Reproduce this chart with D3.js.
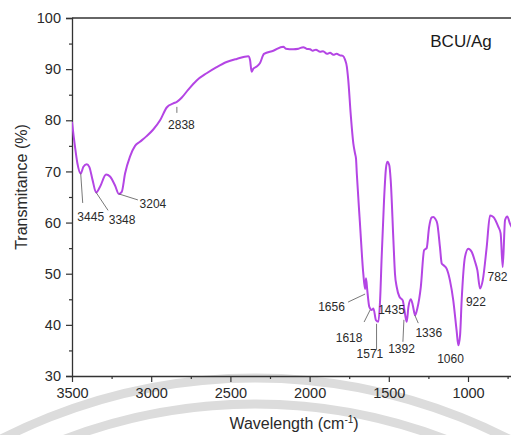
<!DOCTYPE html>
<html>
<head>
<meta charset="utf-8">
<script src="https://cdn.jsdelivr.net/npm/d3@7/dist/d3.min.js"></script>
<style>
  html, body { margin: 0; padding: 0; background: #fff; }
  svg { display: block; font-family: Arial, "Liberation Sans", sans-serif; }
</style>
</head>
<body>
<svg id="chart" width="511" height="435"></svg>
<script>
// ---- data ----
const wavenumber = [
  3500,3490,3481,3466,3445,3428,3407,3391,3370,3348,3323,3285,3260,3229,3204,3186,3165,3134,3102,3071,
  3029,2987,2944,2902,2860,2838,2808,2766,2713,2650,2587,2524,2460,2387,2376,2366,2355,2334,2313,2288,
  2229,2166,2150,2103,2070,2040,2020,1997,1980,1960,1934,1915,1890,1871,1850,1830,1808,1790,1777,1765,
  1756,1740,1724,1713,1707,1702,1682,1661,1650,1644,1636,1623,1608,1597,1581,1566,1555,1545,1530,1518,
  1509,1497,1488,1471,1461,1450,1433,1412,1398,1387,1376,1361,1349,1334,1320,1298,1277,1261,1246,1229,
  1219,1208,1194,1177,1166,1156,1135,1114,1093,1072,1061,1050,1040,1019,998,977,956,941,924,907,
  882,861,840,809,794,781,766,752,735,722
];
const transmittance = [
  79.7,77.0,74.8,71.6,69.6,70.9,71.4,70.9,68.3,65.9,67.0,69.4,69.0,67.3,65.6,66.0,69.6,72.9,75.0,75.8,
  76.9,78.2,80.0,82.5,83.3,83.6,84.4,86.0,87.8,89.2,90.4,91.4,92.0,92.5,91.8,89.5,90.1,90.5,91.2,93.0,
  93.6,94.4,94.0,93.9,94.0,94.3,94.0,93.9,93.6,93.8,93.4,93.5,93.0,93.2,92.8,93.0,92.7,92.6,91.9,90.5,
  87.9,81.0,75.5,73.5,72.5,69.6,59.8,50.0,47.0,49.1,46.8,43.5,42.9,43.2,40.9,40.6,44.8,53.3,64.4,70.6,
  71.9,71.2,68.3,56.6,50.0,47.4,45.5,44.8,42.2,40.6,43.5,45.0,43.9,41.9,43.2,47.4,54.6,55.0,59.0,61.0,
  61.1,60.8,59.8,55.2,52.0,51.7,51.0,48.7,44.8,38.9,36.0,38.0,44.8,53.3,54.9,54.3,52.4,50.7,47.1,48.7,
  55.2,61.4,61.1,59.2,57.9,51.3,60.5,61.2,59.8,59.0
];
const xMajorTicks = [3500, 3000, 2500, 2000, 1500, 1000];
const xMinorTicks = [3250, 2750, 2250, 1750, 1250, 750];
const yMajorTicks = [30, 40, 50, 60, 70, 80, 90, 100];
const yMinorTicks = [35, 45, 55, 65, 75, 85, 95];
// peak labels: label text, wavenumber and transmittance of the marked point
const peakLabels = ["3445","3348","3204","2838","1656","1618","1571","1435","1392","1336","1060","922","782"];
const peakWave   = [3445, 3348, 3204, 2838, 1656, 1618, 1571, 1435, 1392, 1336, 1060, 922, 782];
const peakValue  = [69.6, 65.9, 65.6, 83.6, 47.0, 42.9, 40.6, 45.5, 40.6, 41.9, 36.0, 47.1, 51.3];
const sampleName = "BCU/Ag";
const xTitle = "Wavelength (cm";
const yTitle = "Transmitance (%)";

// ---- layout ----
const W = 511, H = 435;
const mLeft = 72, mTop = 18, mBottom = 376;
const x = d3.scaleLinear().domain([3500, 700]).range([mLeft, mLeft + 2800 * 0.1584]);
const y = d3.scaleLinear().domain([30, 100]).range([mBottom, mTop]);

const svg = d3.select("#chart");

// watermark arcs (background decoration)
const wm = svg.append("g");
[558, 532].forEach(r => {
  wm.append("circle").attr("cx", 255).attr("cy", 936).attr("r", r)
    .attr("fill", "none").attr("stroke", "#dcdcdc").attr("stroke-width", 9);
});

const axisColor = "#333";

// clip
svg.append("clipPath").attr("id", "clip").append("rect")
  .attr("x", mLeft).attr("y", mTop - 2).attr("width", W - mLeft).attr("height", mBottom - mTop + 2);

// top frame line
svg.append("line").attr("x1", mLeft).attr("x2", W).attr("y1", mTop).attr("y2", mTop)
  .attr("stroke", axisColor).attr("stroke-width", 1.3);

// axes
function styleAxis(g) {
  g.selectAll("path.domain").attr("stroke", axisColor).attr("stroke-width", 1.3);
  g.selectAll(".tick line").attr("stroke", axisColor).attr("stroke-width", 1.2);
  g.selectAll(".tick text").attr("fill", "#2a2a2a").style("font-size", "14.5px")
    .style("font-family", "Arial, 'Liberation Sans', sans-serif");
}
const gy = svg.append("g").attr("transform", `translate(${mLeft},0)`)
  .call(d3.axisLeft(y).tickValues(yMajorTicks).tickSize(6).tickPadding(5).tickFormat(d3.format("d")));
styleAxis(gy);
const gyMinor = svg.append("g").attr("transform", `translate(${mLeft},0)`)
  .call(d3.axisLeft(y).tickValues(yMinorTicks).tickSize(3).tickFormat(""));
styleAxis(gyMinor);
gyMinor.select("path.domain").remove();

const gx = svg.append("g").attr("transform", `translate(0,${mBottom})`)
  .call(d3.axisBottom(x).tickValues(xMajorTicks).tickSize(6).tickPadding(6).tickFormat(d3.format("d")));
styleAxis(gx);
gx.select("path.domain").attr("d", `M${mLeft},0.5H${W}`);
const gxMinor = svg.append("g").attr("transform", `translate(0,${mBottom})`)
  .call(d3.axisBottom(x).tickValues(xMinorTicks).tickSize(3).tickFormat(""));
styleAxis(gxMinor);
gxMinor.select("path.domain").remove();

// spectrum line
const data = wavenumber.map((w, i) => ({ w, t: transmittance[i] }));
svg.append("path").datum(data)
  .attr("clip-path", "url(#clip)")
  .attr("fill", "none")
  .attr("stroke", "#b445e4")
  .attr("stroke-width", 2)
  .attr("stroke-linejoin", "round")
  .attr("d", d3.line().x(d => x(d.w)).y(d => y(d.t)).curve(d3.curveMonotoneX));

// peak annotations: label offsets in px relative to the marked point
const labelDx = [10, 26, 34, 4.6, -32.6, -21, -7.6, -7.6, -4.4, 14, -8, -4.4, -5];
const labelDy = [47.5, 32, 14, 27, 22, 32, 36, 17, 31, 22, 18, 17, 14];
// leader lines: [x1, y1, x2, y2] offsets from the marked point
const leaders = [[0,0,2,29.5],[0,0,12,18],[0,0,19,6],[0,5,0,11],[1,5,-16,13],[0,0,-6,12],
                 [-1,2,-1,28],null,[-2,-2,-3,20],[0,0,3.5,8],null,null,null];
const ann = svg.append("g");
peakLabels.forEach((lab, i) => {
  const px = x(peakWave[i]), py = y(peakValue[i]);
  const le = leaders[i];
  if (le) {
    ann.append("line").attr("x1", px + le[0]).attr("y1", py + le[1]).attr("x2", px + le[2]).attr("y2", py + le[3])
      .attr("stroke", "#555").attr("stroke-width", 0.8);
  }
  ann.append("text").attr("x", px + labelDx[i]).attr("y", py + labelDy[i])
    .attr("text-anchor", "middle").attr("fill", "#2a2a2a").style("font-size", "12px")
    .text(lab);
});

// sample name
svg.append("text").attr("x", 461).attr("y", 47).attr("text-anchor", "middle")
  .attr("fill", "#1a1a1a").style("font-size", "17px").text(sampleName);

// axis titles
const xt = svg.append("text").attr("x", 294).attr("y", 429).attr("text-anchor", "middle")
  .attr("fill", "#2a2a2a").style("font-size", "16px");
xt.append("tspan").text(xTitle);
xt.append("tspan").attr("dy", -6).style("font-size", "10px").text("-1");
xt.append("tspan").attr("dy", 6).text(")");

svg.append("text").attr("transform", `translate(27,187) rotate(-90)`).attr("text-anchor", "middle")
  .attr("fill", "#2a2a2a").style("font-size", "16px").text(yTitle);
</script>
</body>
</html>
